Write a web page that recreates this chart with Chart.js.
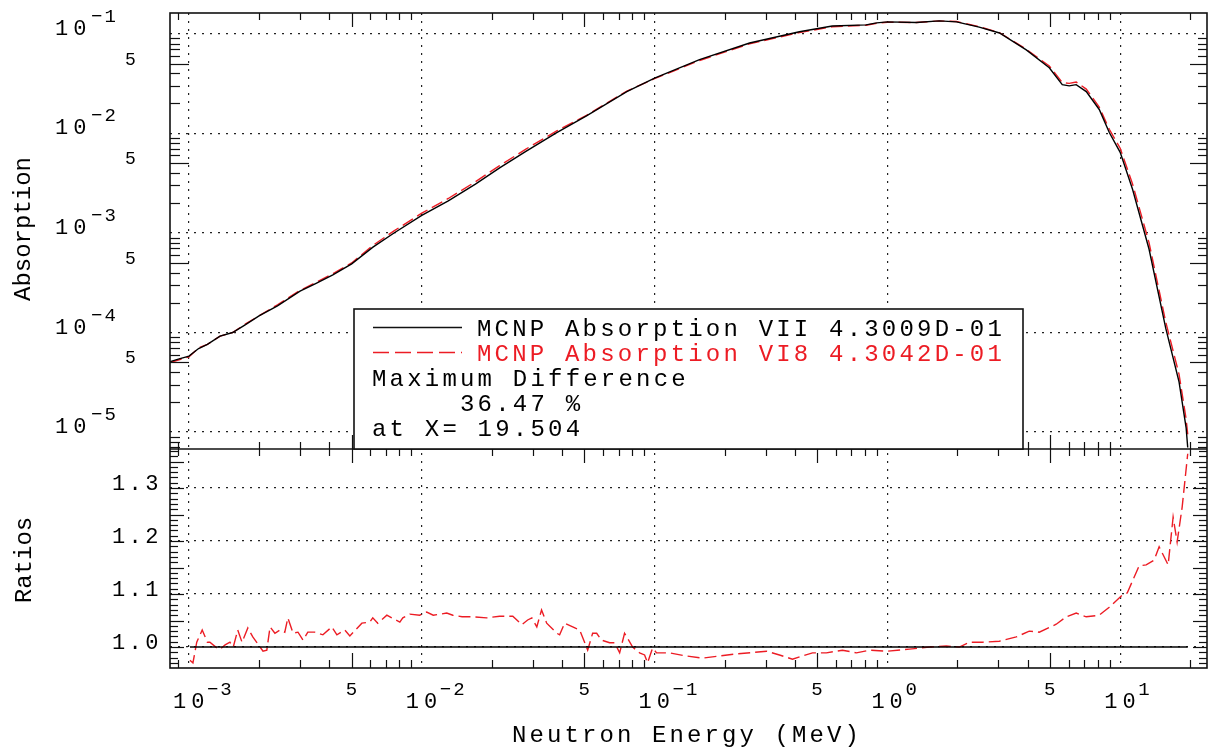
<!DOCTYPE html>
<html>
<head>
<meta charset="utf-8">
<title>MCNP Absorption</title>
<script src="https://cdn.jsdelivr.net/npm/chart.js@4.4.1/dist/chart.umd.min.js"></script>
<style>
  html, body { margin: 0; padding: 0; background: #fff; }
  #wrap { width: 1210px; height: 751px; }
</style>
</head>
<body>
<div id="wrap"><canvas id="absChart" width="1210" height="751"></canvas></div>
<script>
// Neutron energy grid (MeV) for the absorption curves
const energy = [
  8.3e-4, 9.0e-4, 1.0e-3, 1.1e-3, 1.2e-3, 1.36e-3, 1.54e-3, 1.75e-3, 2.0e-3, 2.4e-3,
  3.0e-3, 3.5e-3, 4.15e-3, 5.0e-3, 6.17e-3, 7.6e-3, 1.0e-2, 1.3e-2, 1.7e-2, 2.16e-2,
  2.8e-2, 3.8e-2, 5.1e-2, 7.6e-2, 0.1, 0.156, 0.256, 0.419, 0.58, 0.81,
  0.90, 1.0, 1.33, 1.67, 1.98, 2.48, 3.03, 3.95, 4.96, 5.64,
  6.04, 6.47, 7.15, 8.13, 8.98, 10.0, 11.3, 13.3, 15.7, 17.9,
  19.2, 19.504
];
// ENDF/B-VII absorption
const absVII = [
  5.1e-5, 5.4e-5, 5.8e-5, 6.9e-5, 7.6e-5, 9.2e-5, 1.0e-4, 1.2e-4, 1.47e-4, 1.85e-4,
  2.6e-4, 3.1e-4, 3.8e-4, 4.9e-4, 7.2e-4, 1.0e-3, 1.5e-3, 2.1e-3, 3.1e-3, 4.5e-3,
  6.6e-3, 1.02e-2, 1.5e-2, 2.63e-2, 3.6e-2, 5.5e-2, 8.1e-2, 0.105, 0.120, 0.123,
  0.129, 0.132, 0.130, 0.135, 0.132, 0.117, 0.102, 0.069, 0.0457, 0.0309,
  0.0300, 0.0309, 0.0263, 0.0174, 0.0102, 6.46e-3, 2.75e-3, 6.9e-4, 1.1e-4, 3.2e-5,
  1.1e-5, 7.0e-6
];
// ENDF/B-VI.8 absorption
const absVI8 = [
  5.0e-5, 5.3e-5, 5.7e-5, 7.0e-5, 7.6e-5, 9.2e-5, 1.0e-4, 1.22e-4, 1.47e-4, 1.9e-4,
  2.65e-4, 3.17e-4, 3.9e-4, 5.0e-4, 7.5e-4, 1.05e-3, 1.58e-3, 2.22e-3, 3.27e-3, 4.75e-3,
  6.95e-3, 1.06e-2, 1.52e-2, 2.66e-2, 3.55e-2, 5.4e-2, 7.95e-2, 0.103, 0.118, 0.122,
  0.128, 0.131, 0.130, 0.135, 0.133, 0.118, 0.103, 0.070, 0.0475, 0.0325,
  0.0318, 0.0328, 0.0279, 0.0184, 0.0110, 7.1e-3, 3.1e-3, 8.0e-4, 1.27e-4, 3.8e-5,
  1.35e-5, 9.5e-6
];

// Ratio panel: VI8 / VII
const ratioEnergy = [
  1.01e-3, 1.04e-3, 1.08e-3, 1.14e-3, 1.20e-3, 1.23e-3, 1.32e-3, 1.36e-3, 1.43e-3, 1.50e-3,
  1.55e-3, 1.62e-3, 1.69e-3, 1.79e-3, 1.88e-3, 2.02e-3, 2.08e-3, 2.16e-3, 2.23e-3, 2.34e-3,
  2.46e-3, 2.58e-3, 2.66e-3, 2.80e-3, 2.94e-3, 3.09e-3, 3.24e-3, 3.47e-3, 3.76e-3, 4.11e-3,
  4.32e-3, 4.67e-3, 4.91e-3, 5.53e-3, 5.98e-3, 6.16e-3, 6.47e-3, 7.08e-3, 7.43e-3, 8.05e-3,
  8.29e-3, 8.88e-3, 9.80e-3, 1.05e-2, 1.12e-2, 1.28e-2, 1.36e-2, 1.49e-2, 1.66e-2, 1.90e-2,
  2.16e-2, 2.46e-2, 2.69e-2, 2.85e-2, 2.97e-2, 3.12e-2, 3.27e-2, 3.44e-2, 3.80e-2, 3.91e-2,
  4.11e-2, 4.45e-2, 4.77e-2, 5.16e-2, 5.42e-2, 5.64e-2, 5.92e-2, 6.41e-2, 6.74e-2, 7.08e-2,
  7.43e-2, 8.05e-2, 8.62e-2, 9.06e-2, 9.33e-2, 9.80e-2, 0.102, 0.116, 0.137, 0.161,
  0.190, 0.225, 0.303, 0.344, 0.391, 0.477, 0.547, 0.641, 0.736, 0.837,
  0.990, 1.243, 1.515, 1.791, 2.037, 2.249, 2.557, 3.025, 3.578, 4.068,
  4.492, 5.313, 5.864, 6.475, 7.146, 8.125, 8.974, 10.20, 10.72, 12.06,
  12.93, 13.99, 14.70, 16.07, 16.88, 17.56, 18.46, 19.504
];
const ratioVI8 = [
  0.975, 0.970, 1.009, 1.032, 1.009, 1.009, 0.998, 0.996, 1.004, 1.009,
  1.000, 1.032, 1.009, 1.036, 1.019, 1.000, 0.992, 0.994, 1.038, 1.026,
  1.032, 1.028, 1.055, 1.026, 1.028, 1.013, 1.028, 1.028, 1.023, 1.038,
  1.023, 1.032, 1.021, 1.045, 1.047, 1.055, 1.045, 1.060, 1.055, 1.047,
  1.055, 1.062, 1.060, 1.066, 1.060, 1.064, 1.060, 1.057, 1.057, 1.055,
  1.058, 1.058, 1.042, 1.051, 1.055, 1.038, 1.070, 1.045, 1.026, 1.023,
  1.045, 1.038, 1.032, 0.994, 1.026, 1.026, 1.013, 1.008, 1.008, 0.989,
  1.026, 1.000, 0.989, 0.985, 0.970, 0.998, 0.989, 0.989, 0.983, 0.979,
  0.983, 0.987, 0.992, 0.985, 0.977, 0.989, 0.989, 0.994, 0.989, 0.994,
  0.992, 0.996, 1.000, 1.002, 1.000, 1.009, 1.009, 1.011, 1.019, 1.030,
  1.028, 1.043, 1.057, 1.064, 1.057, 1.060, 1.075, 1.098, 1.102, 1.153,
  1.155, 1.164, 1.189, 1.155, 1.245, 1.198, 1.264, 1.3647
];
// reference line VII / VII
const ratioRefEnergy = [1.01e-3, 19.504];
const ratioRef = [1.0, 1.0];

// axis labels
const xDecades = [1e-3, 1e-2, 1e-1, 1, 10];
const xDecadeExps = ['\u22123', '\u22122', '\u22121', '0', '1'];
const xFives = [5e-3, 5e-2, 5e-1, 5];
const yDecades = [1e-1, 1e-2, 1e-3, 1e-4, 1e-5];
const yDecadeExps = ['\u22121', '\u22122', '\u22123', '\u22124', '\u22125'];
const yFives = [5e-2, 5e-3, 5e-4, 5e-5];
const ratioTicks = [1.0, 1.1, 1.2, 1.3];
const ratioLabels = ['1.0', '1.1', '1.2', '1.3'];

const legendLines = [
  'MCNP Absorption VII 4.3009D-01',
  'MCNP Absorption VI8 4.3042D-01',
  'Maximum Difference',
  '     36.47 %',
  'at X= 19.504'
];

const RED = '#ec1c24';
const FONT = '"Liberation Mono", "DejaVu Sans Mono", monospace';

function toXY(xs, ys) {
  return xs.map((x, i) => ({ x: x, y: ys[i] }));
}

function text(c, str, x, y, size, spacing, align, color) {
  c.font = size + 'px ' + FONT;
  c.letterSpacing = spacing + 'px';
  c.textAlign = align || 'left';
  c.textBaseline = 'alphabetic';
  c.fillStyle = color || '#000';
  c.fillText(str, x, y);
}

function tick(c, x1, y1, x2, y2) {
  c.beginPath();
  c.moveTo(x1, y1);
  c.lineTo(x2, y2);
  c.stroke();
}

// frame, inward tick marks, tick labels, titles and the legend box
const framePlugin = {
  id: 'frame',
  afterDraw(chart) {
    const c = chart.ctx;
    const xs = chart.scales.x, ys = chart.scales.y, yr = chart.scales.yr;
    const L = xs.left, R = xs.right, T = ys.top, M = ys.bottom, B = yr.bottom;

    c.save();
    c.strokeStyle = '#111';
    c.lineWidth = 1.2;

    // x ticks: 2..9 x 10^n, long at 5
    for (let n = -4; n <= 1; n++) {
      for (let m = 2; m <= 9; m++) {
        const v = m * Math.pow(10, n);
        if (v <= xs.min || v >= xs.max) continue;
        const px = Math.round(xs.getPixelForValue(v)) + 0.5;
        const big = m === 5;
        tick(c, px, T, px, T + (big ? 14 : 7));
        tick(c, px, M - (big ? 14 : 7), px, M + (big ? 14 : 7));
        tick(c, px, B, px, B - (big ? 15 : 8));
      }
    }
    // log y ticks on the top panel
    for (let n = -6; n <= -1; n++) {
      for (let m = 2; m <= 9; m++) {
        const v = m * Math.pow(10, n);
        if (v <= ys.min || v >= ys.max) continue;
        const py = Math.round(ys.getPixelForValue(v)) + 0.5;
        const big = m === 5;
        tick(c, L, py, L + (big ? 19 : 10), py);
        tick(c, R, py, R - (big ? 17 : 9), py);
      }
    }
    // ratio ticks every 0.01
    for (let k = 97; k <= 137; k++) {
      const v = k / 100;
      const py = Math.round(yr.getPixelForValue(v)) + 0.5;
      const big = k % 5 === 0;
      tick(c, L, py, L + (big ? 14 : 8), py);
      tick(c, R, py, R - (big ? 14 : 8), py);
    }

    // frame
    c.lineWidth = 1.6;
    c.strokeRect(L, T, R - L, B - T);
    tick(c, L, M, R, M);

    // x labels
    xDecades.forEach((v, i) => {
      const px = xs.getPixelForValue(v);
      text(c, '10', px - 16, 708, 22, 5);
      text(c, xDecadeExps[i], px + 18, 695, 19, 2);
    });
    xFives.forEach(v => {
      text(c, '5', xs.getPixelForValue(v) - 6, 695, 19, 0);
    });
    // top y labels
    yDecades.forEach((v, i) => {
      const py = ys.getPixelForValue(v);
      text(c, '10', 55, py + 1, 22, 5);
      text(c, yDecadeExps[i], 91, py - 12, 19, 2);
    });
    yFives.forEach(v => {
      text(c, '5', 125, ys.getPixelForValue(v) + 1, 18, 0);
    });
    // ratio labels
    ratioTicks.forEach((v, i) => {
      text(c, ratioLabels[i], 162, yr.getPixelForValue(v) + 2, 22, 3.5, 'right');
    });

    // axis titles
    text(c, 'Neutron Energy (MeV)', 512, 742, 24, 3.1);
    c.save();
    c.translate(30, 229);
    c.rotate(-Math.PI / 2);
    text(c, 'Absorption', 0, 0, 24, 0, 'center');
    c.restore();
    c.save();
    c.translate(31, 560);
    c.rotate(-Math.PI / 2);
    text(c, 'Ratios', 0, 0, 24, 0, 'center');
    c.restore();

    // legend box
    const bx = 354, by = 309, bw = 669, bh = M - 309;
    c.fillStyle = '#fff';
    c.fillRect(bx, by, bw, bh);
    c.lineWidth = 1.6;
    c.strokeStyle = '#111';
    c.strokeRect(bx, by, bw, bh);
    c.lineWidth = 1.3;
    tick(c, 373, 327.5, 462, 327.5);
    c.strokeStyle = RED;
    c.lineWidth = 1.5;
    c.setLineDash([16, 6]);
    tick(c, 373, 352.5, 462, 352.5);
    c.setLineDash([]);
    text(c, legendLines[0], 477, 336, 24, 3.2, 'left', '#000');
    text(c, legendLines[1], 477, 361, 24, 3.2, 'left', RED);
    text(c, legendLines[2], 372, 386, 24, 3.2, 'left', '#000');
    text(c, legendLines[3], 372, 411, 24, 3.2, 'left', '#000');
    text(c, legendLines[4], 372, 436, 24, 3.2, 'left', '#000');
    c.restore();
  }
};

const gridOpts = {
  color: '#222',
  lineWidth: 1.2,
  drawTicks: false
};
const dotted = { display: false, dash: [2, 6] };

const ctx = document.getElementById('absChart').getContext('2d');
new Chart(ctx, {
  type: 'line',
  data: {
    datasets: [
      {
        label: 'MCNP Absorption VII',
        data: toXY(energy, absVII),
        yAxisID: 'y',
        borderColor: '#000',
        borderWidth: 1.4,
        pointRadius: 0,
        tension: 0
      },
      {
        label: 'MCNP Absorption VI8',
        data: toXY(energy, absVI8),
        yAxisID: 'y',
        borderColor: RED,
        borderWidth: 1.4,
        borderDash: [12, 5],
        pointRadius: 0,
        tension: 0
      },
      {
        label: 'VII / VII',
        data: toXY(ratioRefEnergy, ratioRef),
        yAxisID: 'yr',
        borderColor: '#000',
        borderWidth: 1.3,
        pointRadius: 0
      },
      {
        label: 'VI8 / VII',
        data: toXY(ratioEnergy, ratioVI8),
        yAxisID: 'yr',
        borderColor: RED,
        borderWidth: 1.4,
        borderDash: [12, 5],
        pointRadius: 0,
        tension: 0
      }
    ]
  },
  options: {
    responsive: false,
    animation: false,
    devicePixelRatio: 1,
    layout: { padding: { left: 170, top: 13, right: 3, bottom: 83 } },
    plugins: {
      legend: { display: false },
      tooltip: { enabled: false }
    },
    scales: {
      x: {
        type: 'logarithmic',
        position: 'bottom',
        min: 8.29e-4,
        max: 23.6,
        ticks: { display: false },
        grid: gridOpts,
        border: dotted,
        afterBuildTicks: s => { s.ticks = xDecades.map(v => ({ value: v })); },
        afterFit: s => { s.height = 0; }
      },
      // left boxes are stacked in reverse order, so the ratio panel comes first
      yr: {
        type: 'linear',
        position: 'left',
        stack: 'panels',
        stackWeight: 219,
        min: 0.9604,
        max: 1.3736,
        ticks: { display: false },
        grid: gridOpts,
        border: dotted,
        afterBuildTicks: s => { s.ticks = ratioTicks.map(v => ({ value: v })); },
        afterFit: s => { s.width = 0; }
      },
      y: {
        type: 'logarithmic',
        position: 'left',
        stack: 'panels',
        stackWeight: 436,
        min: 6.76e-6,
        max: 0.162,
        ticks: { display: false },
        grid: gridOpts,
        border: dotted,
        afterBuildTicks: s => { s.ticks = yDecades.map(v => ({ value: v })); },
        afterFit: s => { s.width = 0; }
      }
    }
  },
  plugins: [framePlugin]
});
</script>
</body>
</html>
